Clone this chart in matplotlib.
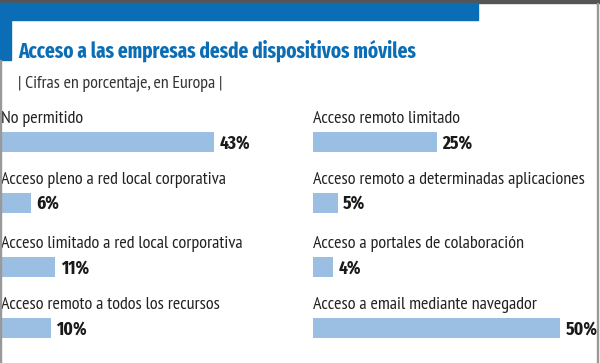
import matplotlib
matplotlib.use("Agg")
import matplotlib.pyplot as plt
from matplotlib.patches import Rectangle

# data
left_labels = ["No permitido",
               "Acceso pleno a red local corporativa",
               "Acceso limitado a red local corporativa",
               "Acceso remoto a todos los recursos"]
left_values = [43, 6, 11, 10]

right_labels = ["Acceso remoto limitado",
                "Acceso remoto a determinadas aplicaciones",
                "Acceso a portales de colaboración",
                "Acceso a email mediante navegador"]
right_values = [25, 5, 4, 50]

title = "Acceso a las empresas desde dispositivos móviles"
subtitle = "| Cifras en porcentaje, en Europa |"

# layout (pixels)
W, H = 600, 363
px_per_pct = 4.95
row_y = [142, 202.5, 267, 328]
bar_h = 20

blue = "#0b6db5"
bar_col = "#9bbfe3"
narrow = ["PT Sans Narrow", "DejaVu Sans"]
xcond = ["Fira Sans Extra Condensed", "DejaVu Sans"]

fig = plt.figure(figsize=(W / 100, H / 100), dpi=100)

# frame decorations
fig.patches.append(Rectangle((0, 1 - 3 / H), 1, 3 / H, transform=fig.transFigure,
                             color="#555555", zorder=0))
fig.patches.append(Rectangle((0, 1 - 20 / H), 478 / W, 17 / H, transform=fig.transFigure,
                             color=blue, zorder=0))
fig.patches.append(Rectangle((0, 1 - 60 / H), 11 / W, 57 / H, transform=fig.transFigure,
                             color=blue, zorder=0))
fig.patches.append(Rectangle((0, 0), 1 / W, 1 - 60 / H, transform=fig.transFigure,
                             color="#999999", zorder=0))
fig.patches.append(Rectangle((597 / W, 0), 1.2 / W, 1 - 3 / H, transform=fig.transFigure,
                             color="#999999", zorder=0))

fig.text(18 / W, 1 - 51 / H, title, fontsize=15, fontweight="bold", color=blue,
         family=xcond, va="center", ha="left")
fig.text(18 / W, 1 - 84 / H, subtitle, fontsize=12.9, color="#333333",
         family=narrow, va="center", ha="left")


def column(x0, width, labels, values):
    ax = fig.add_axes([x0 / W, 0, width / W, 1])
    ax.set_xlim(0, width / px_per_pct)
    ax.set_ylim(H, 0)
    ax.axis("off")
    ax.barh(row_y, values, height=bar_h, color=bar_col, align="center")
    for y, lab, v in zip(row_y, labels, values):
        ax.text(0, y - 23, lab, fontsize=13.1, color="#222222", family=narrow,
                va="center", ha="left")
        ax.text(v + 1.1, y + 1, f"{v}%", fontsize=13.5, fontweight="bold",
                color="#1a1a1a", family=xcond, va="center", ha="left")
    return ax


column(1, 295, left_labels, left_values)
column(313, 284, right_labels, right_values)

fig.savefig("out.png", dpi=100)
